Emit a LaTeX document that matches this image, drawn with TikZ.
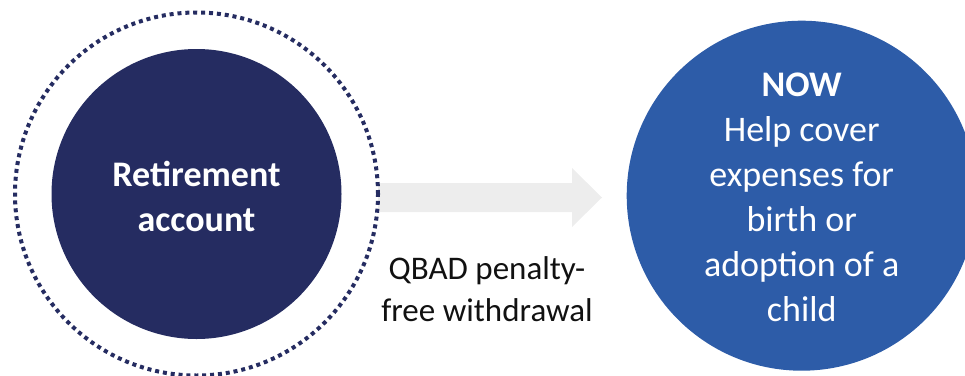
\documentclass[tikz,border=0pt]{standalone}
\usepackage{fontspec}
\setmainfont{Carlito}
\definecolor{navy}{HTML}{252C61}
\definecolor{royal}{HTML}{2D5CA8}
\definecolor{arrowgray}{HTML}{EDEDED}
\definecolor{inkblack}{HTML}{111111}
\tikzset{
  bigtext/.style={font=\fontsize{36}{45}\selectfont, align=center, inner sep=0pt},
  disc/.style={circle, inner sep=0pt, draw=none},
}
\begin{document}
\begin{tikzpicture}[x=1pt, y=-1pt]
  \useasboundingbox (0,0) rectangle (965,375);
  \clip (0,0) rectangle (965,375);

  % block arrow between the two circles
  \coordinate (arrowtail) at (378,197.5);
  \coordinate (arrowtip) at (602,197.5);
  \fill[arrowgray] (arrowtail) ++(0,-14.5) -- ++(194,0) -- ++(0,-15)
    -- (arrowtip) -- ++(-30,29.5) -- ++(0,-15) -- ++(-194,0) -- cycle;

  % retirement account
  \node[disc, fill=navy, minimum size=290pt] (acct) at (196.5,194) {};
  \draw[navy, line width=4pt, dash pattern=on 4pt off 3.9pt]
    (acct.center) circle[radius=181.5pt];
  \node[bigtext, text=white, font=\fontsize{36}{45}\selectfont\bfseries]
    (acctlabel) at (196.5,196) {Retirement\\account};

  % withdrawal label under the arrow
  \node[bigtext, text=inkblack, font=\fontsize{33}{42}\selectfont]
    (qbad) at (487,289.5) {QBAD penalty-\\free withdrawal};

  % use of the funds
  \node[disc, fill=royal, minimum size=350pt] (now) at (801.7,195.7) {};
  \node[bigtext, text=white] (nowlabel) at (801.7,197)
    {\textbf{NOW}\\Help cover\\expenses for\\birth or\\adoption of a\\child};
\end{tikzpicture}
\end{document}
